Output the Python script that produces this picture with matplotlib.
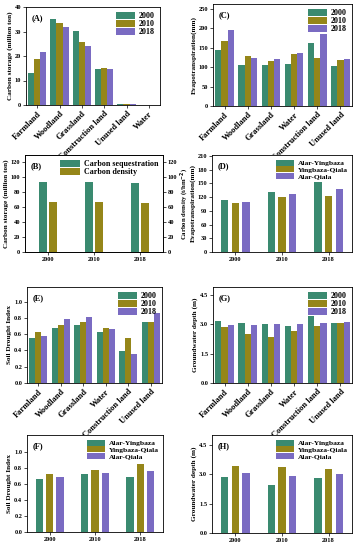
import numpy as np
import matplotlib
matplotlib.use("Agg")
import matplotlib.pyplot as plt

plt.rcParams['font.family'] = ['Liberation Serif', 'DejaVu Serif']
plt.rcParams['font.weight'] = 'bold'
plt.rcParams['axes.labelweight'] = 'bold'
plt.rcParams['axes.linewidth'] = 0.6

# colours for the three series
c1 = '#3a8a70'
c2 = '#958619'
c3 = '#7a6bc2'

years = ['2000', '2010', '2018']
regions = ['Alar-Yingbaza', 'Yingbaza-Qiala', 'Alar-Qiala']

# (A) carbon storage by land use
land_a = ['Farmland', 'Woodland', 'Grassland', 'Construction land', 'Unused land', 'Water']
carbon_2000 = [13.0, 35.3, 30.2, 14.5, 0.3, 0.05]
carbon_2010 = [18.8, 33.6, 25.8, 14.9, 0.4, 0.05]
carbon_2018 = [21.6, 31.8, 24.0, 14.8, 0.6, 0.05]

# (B) carbon sequestration and density by year
sequestration = [94, 94, 93]
density = [67, 67, 66]

# land use order for C, E, G
land = ['Farmland', 'Woodland', 'Grassland', 'Water', 'Construction land', 'Unused land']

# (C) evapotranspiration by land use
et_2000 = [145, 106, 105, 109, 161, 103]
et_2010 = [167, 128, 116, 133, 124, 118]
et_2018 = [196, 123, 122, 135, 185, 122]

# (D) evapotranspiration by region, values for 2000/2010/2018
et_ay = [113, 132, 153]
et_yq = [107, 120, 122]
et_aq = [110, 126, 137]

# (E) soil drought index by land use
sdi_2000 = [0.55, 0.68, 0.71, 0.63, 0.39, 0.75]
sdi_2010 = [0.63, 0.71, 0.75, 0.67, 0.55, 0.75]
sdi_2018 = [0.58, 0.79, 0.81, 0.66, 0.36, 0.86]

# (F) soil drought index by region
sdi_ay = [0.66, 0.72, 0.69]
sdi_yq = [0.72, 0.77, 0.85]
sdi_aq = [0.68, 0.74, 0.76]

# (G) groundwater depth by land use
gw_2000 = [3.18, 3.08, 3.04, 2.94, 3.42, 3.09]
gw_2010 = [2.87, 2.50, 2.34, 2.67, 2.94, 3.08]
gw_2018 = [2.97, 2.96, 3.04, 3.00, 3.06, 3.11]

# (H) groundwater depth by region
gw_ay = [2.84, 2.46, 2.82]
gw_yq = [3.40, 3.36, 3.28]
gw_aq = [3.07, 2.90, 3.00]

fig = plt.figure(figsize=(3.59, 5.5), dpi=100)

tick_fs = 4.6
lab_fs = 5.2
leg_fs = 5.8


def style(ax, ylim, yticks, ylabel, tag):
    ax.set_ylim(*ylim)
    ax.set_yticks(yticks)
    ax.set_ylabel(ylabel, fontsize=lab_fs, labelpad=1.5)
    ax.tick_params(labelsize=tick_fs, length=2, width=0.5, pad=1.5)
    ax.text(0.04, 0.93, tag, transform=ax.transAxes, fontsize=6, fontweight='bold',
            va='top', ha='left')


def legend(ax, labels, fs=leg_fs, loc='upper right'):
    ax.legend(labels, loc=loc, fontsize=fs, frameon=False, handlelength=2.4,
              handleheight=0.9, labelspacing=0.0, borderaxespad=0.2, handletextpad=0.5)


def grouped(ax, cats, series, width, offset, colors):
    x = np.arange(len(cats))
    for i, (vals, col) in enumerate(zip(series, colors)):
        ax.bar(x + (i - 1) * offset, vals, width, color=col)
    ax.set_xlim(-0.5, len(cats) - 0.5)
    ax.set_xticks(x)


def land_labels(ax, cats):
    ax.set_xticklabels(cats, rotation=45, ha='right', rotation_mode='anchor', fontsize=6)


def year_labels(ax):
    ax.set_xticklabels(years, fontsize=5.8)
    ax.tick_params(axis='x', pad=4)


# (A)
ax = fig.add_axes([26 / 359, 1 - 105 / 550, 134 / 359, 98 / 550])
grouped(ax, land_a, [carbon_2000, carbon_2010, carbon_2018], 0.27, 0.27, [c1, c2, c3])
style(ax, (0, 40), [0, 10, 20, 30, 40], 'Carbon storage (million ton)', '(A)')
land_labels(ax, land_a)
legend(ax, years)

# (C)
ax = fig.add_axes([213 / 359, 1 - 106 / 550, 139 / 359, 102 / 550])
grouped(ax, land, [et_2000, et_2010, et_2018], 0.27, 0.27, [c1, c2, c3])
style(ax, (0, 262), [0, 50, 100, 150, 200, 250], 'Evapotranspiration(mm)', '(C)')
land_labels(ax, land)
legend(ax, years)

# (B)
ax = fig.add_axes([25 / 359, 1 - 252 / 550, 138 / 359, 97 / 550])
x = np.arange(len(years))
ax.bar(x - 0.11, sequestration, 0.16, color=c1, label='Carbon sequestration')
ax.bar(x + 0.11, density, 0.16, color=c2, label='Carbon density')
ax.set_xlim(-0.5, 2.5)
ax.set_xticks(x)
year_labels(ax)
style(ax, (0, 130), [0, 20, 40, 60, 80, 100, 120], 'Carbon storage (million ton)', '(B)')
ax.legend(loc='upper right', fontsize=leg_fs, frameon=False, handlelength=2.4,
          handleheight=0.9, labelspacing=0.0, borderaxespad=0.2, handletextpad=0.5)
ax2 = ax.twinx()
ax2.set_ylim(0, 130)
ax2.set_yticks([0, 20, 40, 60, 80, 100, 120])
ax2.set_ylabel('Carbon density (t/hm$^{-2}$)', fontsize=4.8, labelpad=1)
ax2.tick_params(labelsize=tick_fs, length=2, width=0.5, pad=1.5)

# (D)
ax = fig.add_axes([212 / 359, 1 - 252 / 550, 140 / 359, 97 / 550])
grouped(ax, years, [et_ay, et_yq, et_aq], 0.16, 0.23, [c1, c2, c3])
year_labels(ax)
style(ax, (0, 212), [0, 30, 60, 90, 120, 150, 180, 210], 'Evapotranspiration(mm)', '(D)')
legend(ax, regions, fs=5.4)

# (E)
ax = fig.add_axes([27 / 359, 1 - 383 / 550, 135 / 359, 96 / 550])
grouped(ax, land, [sdi_2000, sdi_2010, sdi_2018], 0.27, 0.27, [c1, c2, c3])
style(ax, (0, 1.18), [0, 0.2, 0.4, 0.6, 0.8, 1.0], 'Soil Drought Index', '(E)')
ax.set_yticklabels(['0.0', '0.2', '0.4', '0.6', '0.8', '1.0'])
land_labels(ax, land)
legend(ax, years)

# (G)
ax = fig.add_axes([213 / 359, 1 - 383 / 550, 139 / 359, 96 / 550])
grouped(ax, land, [gw_2000, gw_2010, gw_2018], 0.27, 0.27, [c1, c2, c3])
style(ax, (0, 4.92), [0, 1.5, 3.0, 4.5], 'Groundwater depth (m)', '(G)')
land_labels(ax, land)
legend(ax, years)

# (F)
ax = fig.add_axes([27 / 359, 1 - 532 / 550, 136 / 359, 97 / 550])
grouped(ax, years, [sdi_ay, sdi_yq, sdi_aq], 0.16, 0.23, [c1, c2, c3])
year_labels(ax)
style(ax, (0, 1.21), [0, 0.2, 0.4, 0.6, 0.8, 1.0], 'Soil Drought Index', '(F)')
ax.set_yticklabels(['0.0', '0.2', '0.4', '0.6', '0.8', '1.0'])
legend(ax, regions, fs=5.4)

# (H)
ax = fig.add_axes([212 / 359, 1 - 533 / 550, 140 / 359, 98 / 550])
grouped(ax, years, [gw_ay, gw_yq, gw_aq], 0.16, 0.23, [c1, c2, c3])
year_labels(ax)
style(ax, (0, 5.0), [0, 1.5, 3.0, 4.5], 'Groundwater depth (m)', '(H)')
legend(ax, regions, fs=5.4)

fig.savefig('out.png', dpi=100)
